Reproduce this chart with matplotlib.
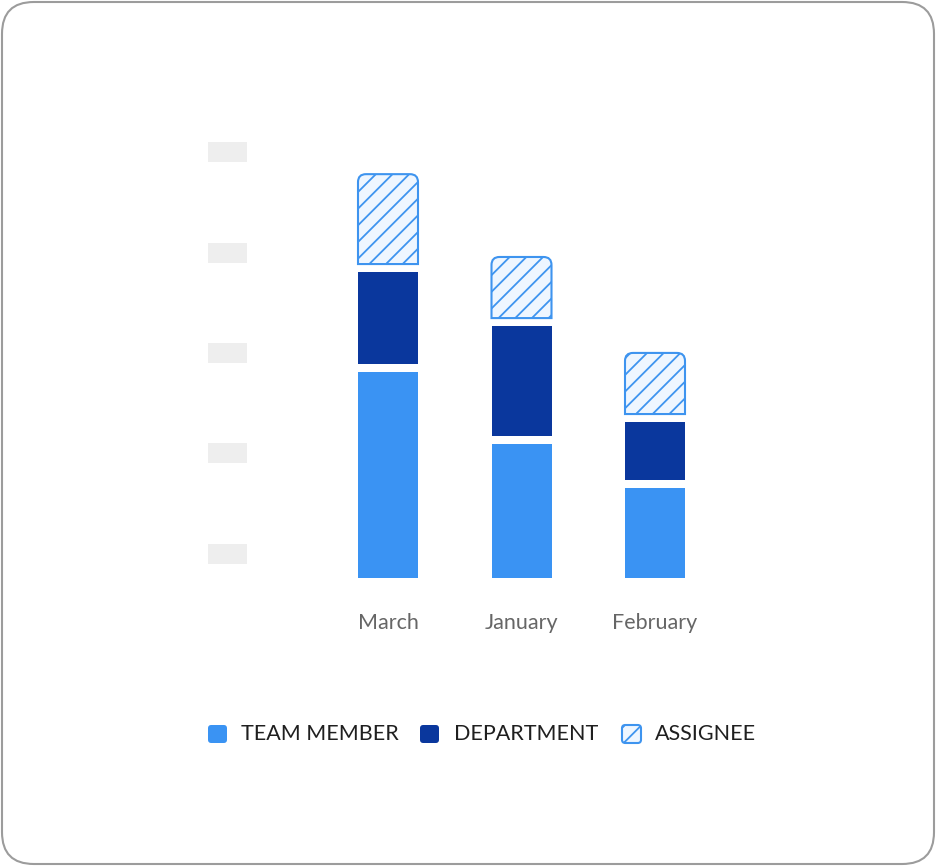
import matplotlib
matplotlib.use("Agg")
import matplotlib.pyplot as plt
from matplotlib.patches import FancyBboxPatch, PathPatch, Rectangle
from matplotlib.path import Path
from matplotlib import transforms

plt.rcParams['font.family'] = ['Lato', 'DejaVu Sans']
plt.rcParams['hatch.linewidth'] = 1.3

# data
months = ["March", "January", "February"]
team_member = [40.8, 26.5, 17.8]
department = [18.2, 21.8, 11.5]
assignee = [17.8, 12.1, 12.1]
skeleton_ticks = [4.8, 24.7, 44.5, 64.4, 84.3]
legend_labels = ["TEAM MEMBER", "DEPARTMENT", "ASSIGNEE"]

C_TEAM = "#3a93f3"
C_DEPT = "#0a379d"
C_ASSIGN_EDGE = "#3e94ef"
C_ASSIGN_FILL = "#eef6ff"

W, H = 936, 866
fig = plt.figure(figsize=(W / 100, H / 100), dpi=100, facecolor="white")

# outer rounded card
card = FancyBboxPatch((2 / W, 2 / H), (W - 4) / W, (H - 4) / H,
                      boxstyle="round,pad=0,rounding_size=0.034",
                      transform=fig.transFigure, facecolor="none",
                      edgecolor="#9c9c9c", linewidth=1.5, mutation_aspect=W / H,
                      zorder=-1)
fig.patches.append(card)

# plot area: left 300px, right 740px, bottom 578px, top 130px
ax = fig.add_axes([300 / W, (H - 578) / H, 440 / W, 448 / H])
ax.set_facecolor("none")
px_per_unit_y = 5.05
px_per_unit_x = 133.5
ax.set_ylim(0, 448 / px_per_unit_y)
ax.set_xlim(-88 / px_per_unit_x, 2 + 85 / px_per_unit_x)
for s in ax.spines.values():
    s.set_visible(False)

x = list(range(len(months)))
bw = 60 / px_per_unit_x
gap = 8 / px_per_unit_y

ax.bar(x, team_member, width=bw, color=C_TEAM, linewidth=0)
dept_bottom = [t + gap for t in team_member]
ax.bar(x, department, width=bw, bottom=dept_bottom, color=C_DEPT, linewidth=0)

# assignee segment with rounded top corners and hatch
rx = 8 / px_per_unit_x
ry = 8 / px_per_unit_y
for xi, db, d, a in zip(x, dept_bottom, department, assignee):
    x0, x1 = xi - bw / 2, xi + bw / 2
    y0 = db + d + gap
    y1 = y0 + a
    verts = [(x0, y0), (x0, y1 - ry), (x0, y1), (x0 + rx, y1),
             (x1 - rx, y1), (x1, y1), (x1, y1 - ry), (x1, y0), (x0, y0)]
    codes = [Path.MOVETO, Path.LINETO, Path.CURVE3, Path.CURVE3,
             Path.LINETO, Path.CURVE3, Path.CURVE3, Path.LINETO, Path.CLOSEPOLY]
    ax.add_patch(PathPatch(Path(verts, codes), facecolor=C_ASSIGN_FILL,
                           edgecolor=C_ASSIGN_EDGE, hatch="//", linewidth=1.5))

# x labels
ax.set_xticks(x)
ax.set_xticklabels(months, fontsize=15.5, color="#666666")
ax.tick_params(axis="x", length=0, pad=25)

# skeleton y labels (grey placeholders)
ax.set_yticks([])
blend = transforms.blended_transform_factory(fig.transFigure, ax.transData)
for t in skeleton_ticks:
    ax.add_patch(Rectangle((208 / W, t - 10 / px_per_unit_y), 39 / W, 20 / px_per_unit_y,
                           transform=blend, facecolor="#eeeeee", edgecolor="none",
                           clip_on=False))

# legend
leg_y = (H - 734) / H
sq_x = [208, 420, 622]
txt_x = [241, 454, 655]
styles = [dict(facecolor=C_TEAM, edgecolor=C_TEAM, linewidth=0),
          dict(facecolor=C_DEPT, edgecolor=C_DEPT, linewidth=0),
          dict(facecolor=C_ASSIGN_FILL, edgecolor=C_ASSIGN_EDGE, hatch="//", linewidth=1.5)]
for sx, tx, lab, st in zip(sq_x, txt_x, legend_labels, styles):
    sq = FancyBboxPatch((sx / W, leg_y - 9 / H), 19 / W, 18 / H,
                        boxstyle="round,pad=0,rounding_size=0.0035",
                        transform=fig.transFigure, mutation_aspect=W / H, **st)
    fig.patches.append(sq)
    fig.text(tx / W, leg_y, lab, fontsize=15.5, color="#1f1f1f",
             ha="left", va="center")

fig.savefig("out.png", dpi=100)
